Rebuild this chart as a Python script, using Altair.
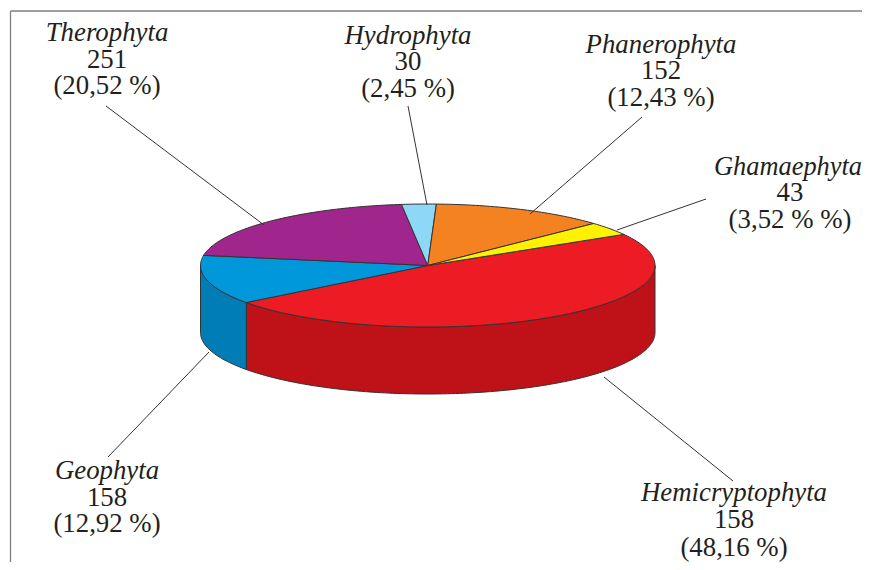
import numpy as np
import pandas as pd
import altair as alt

# Data
names = ["Hemicryptophyta", "Geophyta", "Therophyta", "Hydrophyta", "Phanerophyta", "Ghamaephyta"]
counts = ["158", "158", "251", "30", "152", "43"]
percent_labels = ["(48,16 %)", "(12,92 %)", "(20,52 %)", "(2,45 %)", "(12,43 %)", "(3,52 % %)"]
shares = [48.16, 12.92, 20.52, 2.45, 12.43, 3.52]

# Styles
top_colors = ["#ED1C24", "#0097DB", "#A0258C", "#8DD7F7", "#F58220", "#FFF200"]
wall_colors = {"Hemicryptophyta": "#BE1218", "Geophyta": "#007DB5"}
OUTLINE = "#333333"
FONT = "Liberation Serif"
FONT_SIZE = 26.8

# Layout (page pixels; the page margin is 8 px)
M = 8
START_ANGLE = 30.4
DEPTH = 67 / 61.5
x_scale = alt.Scale(domain=[-1, 1], range=[200.5 - M, 655 - M], nice=False, zero=False)
y_scale = alt.Scale(domain=[-1, 1], range=[327 - M, 204 - M], nice=False, zero=False)
label_pos = {
    "Therophyta": (107, [41, 68, 94]),
    "Hydrophyta": (408, [44, 70, 97]),
    "Phanerophyta": (661, [53, 79, 106]),
    "Ghamaephyta": (790, [175, 201, 228]),
    "Geophyta": (107, [479, 506, 532]),
    "Hemicryptophyta": (734, [501, 528, 556]),
}
# The name at the right edge has to stay inside the drawable page
name_fit = {"Ghamaephyta": (-2, 26.4)}
leaders = [
    (106, 106, 264, 225),
    (408, 106, 427, 205),
    (642, 117, 530, 214),
    (706, 199, 617, 230),
    (108, 457, 209, 352),
    (604, 377, 733, 481),
]


def arc(a, b):
    n = max(2, int(abs(b - a)) + 2)
    t = np.radians(np.linspace(a, b, n))
    return np.cos(t), np.sin(t)


def polygon(xs, ys):
    xs = list(xs) + [xs[0]]
    ys = list(ys) + [ys[0]]
    return pd.DataFrame({"x": xs, "y": ys, "i": range(len(xs))})


def shape(df, color):
    return (
        alt.Chart(df)
        .mark_line(filled=True, fill=color, stroke=OUTLINE, strokeWidth=1, strokeJoin="round", interpolate="linear")
        .encode(
            x=alt.X("x:Q", scale=x_scale, axis=None),
            y=alt.Y("y:Q", scale=y_scale, axis=None),
            order=alt.Order("i:Q"),
        )
    )


layers = []
edges = START_ANGLE - np.cumsum([0] + [s * 3.6 for s in shares])

# Walls: only the front half of the ellipse is visible
for i, name in enumerate(names):
    a, b = edges[i], edges[i + 1]
    a2, b2 = min(a, 0), max(b, -180)
    if name in wall_colors:
        cx, cy = arc(a2, b2)
        xs = np.concatenate([cx, cx[::-1]])
        ys = np.concatenate([cy, cy[::-1] - DEPTH])
        layers.append(shape(polygon(xs, ys), wall_colors[name]))

# Top face
for i, name in enumerate(names):
    cx, cy = arc(edges[i], edges[i + 1])
    xs = np.concatenate([[0], cx])
    ys = np.concatenate([[0], cy])
    layers.append(shape(polygon(xs, ys), top_colors[i]))

one = pd.DataFrame({"a": [0]})


def rule(x1, y1, x2, y2, color, width):
    return (
        alt.Chart(one)
        .mark_rule(color=color, strokeWidth=width)
        .encode(
            x=alt.value(x1 - M), y=alt.value(y1 - M),
            x2=alt.value(x2 - M), y2=alt.value(y2 - M),
        )
    )


def label(text, x, y, style, size=FONT_SIZE):
    return (
        alt.Chart(one)
        .mark_text(text=text, font=FONT, fontSize=size, fontStyle=style, align="center",
                   baseline="alphabetic", color="#231F20")
        .encode(x=alt.value(x - M), y=alt.value(y - M))
    )


for x1, y1, x2, y2 in leaders:
    layers.append(rule(x1, y1, x2, y2, OUTLINE, 1))

for i, name in enumerate(names):
    x, ys = label_pos[name]
    dx, size = name_fit.get(name, (0, FONT_SIZE))
    layers.append(label(name, x + dx, ys[0], "italic", size))
    layers.append(label(counts[i], x, ys[1], "normal"))
    layers.append(label(percent_labels[i], x, ys[2], "normal"))

# Open frame: top and left edges run off the picture on the right and at the bottom
layers.append(rule(10.5, 11, 870, 11, "#7F7F7F", 1.3))
layers.append(rule(10.5, 11, 10.5, 570, "#7F7F7F", 1.3))

chart = (
    alt.layer(*layers)
    .properties(width=854, height=554, padding=0, autosize=alt.AutoSizeParams(type="none"))
    .configure_view(stroke=None)
)

chart.save("out.html", embed_options={"renderer": "svg", "actions": False})
